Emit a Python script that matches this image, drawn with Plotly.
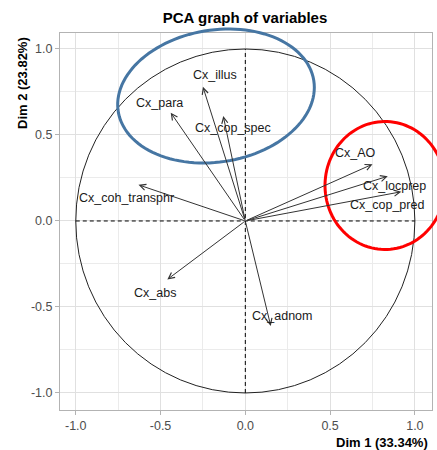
import numpy as np
import plotly.graph_objects as go

# PCA variable coordinates (correlation circle)
variables = ["Cx_illus", "Cx_para", "Cx_cop_spec", "Cx_AO", "Cx_locprep",
             "Cx_cop_pred", "Cx_coh_transphr", "Cx_abs", "Cx_adnom"]
dim1 = [-0.25, -0.44, -0.13, 0.75, 0.84, 0.92, -0.63, -0.46, 0.15]
dim2 = [0.78, 0.63, 0.61, 0.33, 0.26, 0.17, 0.21, -0.34, -0.61]

dim1_pct = 33.34
dim2_pct = 23.82

tick_vals = [-1.0, -0.5, 0.0, 0.5, 1.0]
tick_text = ["-1.0", "-0.5", "0.0", "0.5", "1.0"]

# label offsets (pixels) from each arrow tip
label_shift = {
    "Cx_illus": (12, 12), "Cx_para": (-11, 10), "Cx_cop_spec": (10, -12),
    "Cx_AO": (-17, 11), "Cx_locprep": (7, -10), "Cx_cop_pred": (-14, -13),
    "Cx_coh_transphr": (-12, -13), "Cx_abs": (-12, -14), "Cx_adnom": (11, 10),
}

W, H = 437, 450
ML, MR, MT, MB = 60, 5, 33, 40
PW, PH = W - ML - MR, H - MT - MB
FONT = "Liberation Sans, Arial, sans-serif"


def px_to_paper(px, py):
    return (px - ML) / PW, (H - MB - py) / PH


def ellipse_path(cx, cy, a, b, angle_deg, n=120):
    """Closed SVG path of a rotated ellipse given in screen pixels."""
    t = np.linspace(0, 2 * np.pi, n)
    th = np.deg2rad(angle_deg)
    ex = cx + a * np.cos(t) * np.cos(th) + b * np.sin(t) * np.sin(th)
    ey = cy - a * np.cos(t) * np.sin(th) + b * np.sin(t) * np.cos(th)
    pts = [px_to_paper(x, y) for x, y in zip(ex, ey)]
    return "M " + " L ".join(f"{x:.4f},{y:.4f}" for x, y in pts) + " Z"


fig = go.Figure()
fig.add_trace(go.Scatter(x=[None], y=[None], showlegend=False, hoverinfo="skip"))

dash_style = "4px,3px"
shapes = [
    # unit correlation circle
    dict(type="circle", xref="x", yref="y", x0=-1, y0=-1, x1=1, y1=1,
         line=dict(color="#222222", width=1), layer="above"),
    # axes through origin
    dict(type="line", xref="x", yref="y", x0=-1, y0=0, x1=1, y1=0,
         line=dict(color="black", width=1, dash=dash_style), layer="above"),
    dict(type="line", xref="x", yref="y", x0=0, y0=-1, x1=0, y1=1,
         line=dict(color="black", width=1, dash=dash_style), layer="above"),
    # highlighted variable groups
    dict(type="path", xref="paper", yref="paper",
         path=ellipse_path(216, 96, 99, 66, 9),
         line=dict(color="#4676A3", width=3), layer="above"),
    dict(type="path", xref="paper", yref="paper",
         path=ellipse_path(385, 185.5, 60, 64, 0),
         line=dict(color="#FF0000", width=3), layer="above"),
]

annotations = []
for name, x, y in zip(variables, dim1, dim2):
    annotations.append(dict(
        x=x, y=y, ax=0, ay=0, xref="x", yref="y", axref="x", ayref="y",
        text="", showarrow=True, arrowhead=5, arrowsize=1.2, arrowwidth=1,
        arrowcolor="#333333", standoff=0,
    ))
for name, x, y in zip(variables, dim1, dim2):
    dx, dy = label_shift[name]
    annotations.append(dict(
        x=x, y=y, xref="x", yref="y", text=name, showarrow=False,
        xshift=dx, yshift=dy, font=dict(family=FONT, size=12.5, color="#1a1a1a"),
    ))

# axis titles placed like the ggplot layout
ax_font = dict(family=FONT, size=13, color="black")
x0p, _ = px_to_paper(430, 0)
_, y0p = px_to_paper(0, 442)
annotations.append(dict(
    text=f"<b>Dim 1 ({dim1_pct:.2f}%)</b>", xref="paper", yref="paper",
    x=x0p, y=y0p, xanchor="right", yanchor="middle", showarrow=False, font=ax_font,
))
x1p, y1p = px_to_paper(22, 35)
annotations.append(dict(
    text=f"<b>Dim 2 ({dim2_pct:.2f}%)</b>", xref="paper", yref="paper",
    x=x1p, y=y1p, xanchor="center", yanchor="top", textangle=-90,
    showarrow=False, font=ax_font,
))

axis_common = dict(
    tickvals=tick_vals, ticktext=tick_text, showgrid=True, gridcolor="#E0E0E0",
    gridwidth=1, zeroline=False, showline=True, mirror=True, linecolor="#B3B3B3",
    linewidth=1, ticks="outside", ticklen=4, tickcolor="#B3B3B3",
    tickfont=dict(family=FONT, size=12.5, color="#4D4D4D"),
    minor=dict(dtick=0.25, tick0=0, showgrid=True, gridcolor="#EBEBEB", gridwidth=1),
)

fig.update_layout(
    width=W, height=H, margin=dict(l=ML, r=MR, t=MT, b=MB),
    paper_bgcolor="white", plot_bgcolor="white",
    title=dict(text="<b>PCA graph of variables</b>", x=245 / W, xanchor="center",
               y=1 - 17.5 / H, yanchor="middle", xref="container", yref="container",
               font=dict(family=FONT, size=15, color="black")),
    xaxis=dict(range=[-1.093, 1.101], **axis_common),
    yaxis=dict(range=[-1.099, 1.093], **axis_common),
    shapes=shapes, annotations=annotations, showlegend=False,
)

fig.write_html("out.html")
